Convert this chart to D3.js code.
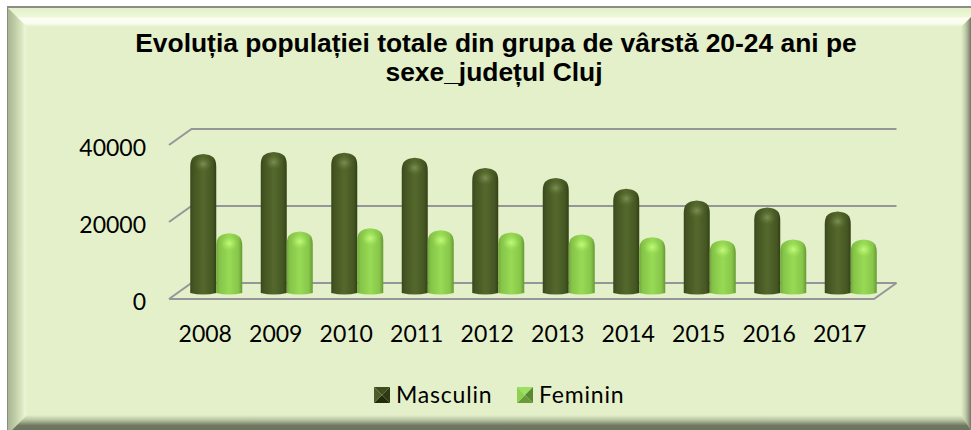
<!DOCTYPE html>
<html>
<head>
<meta charset="utf-8">
<script src="https://cdn.jsdelivr.net/npm/d3@7"></script>
<style>
  html, body { margin: 0; padding: 0; background: #fff; overflow: hidden; }
  svg { display: block; }
</style>
</head>
<body>
<div id="chart"></div>
<script>
// data
var years = ["2008", "2009", "2010", "2011", "2012", "2013", "2014", "2015", "2016", "2017"];
var masculin = [36100, 36600, 36400, 35100, 32500, 29900, 27100, 24000, 22200, 21200];
var feminin = [15500, 16000, 16800, 16300, 15700, 15200, 14500, 13700, 13900, 13900];
var yTicks = [0, 20000, 40000];
var seriesNames = ["Masculin", "Feminin"];
var titleLines = ["Evoluția populației totale din grupa de vârstă 20-24 ani pe", "sexe_județul Cluj"];

var width = 971, height = 430;

var svg = d3.select("#chart")
  .append("svg")
    .attr("width", width)
    .attr("height", height);

var defs = svg.append("defs");

function linear(id, x2, y2, stops) {
  var g = defs.append("linearGradient").attr("id", id)
    .attr("x1", 0).attr("y1", 0).attr("x2", x2).attr("y2", y2);
  stops.forEach(function(s) {
    g.append("stop").attr("offset", s[0]).attr("stop-color", s[1]);
  });
}

function radial(id, stops) {
  var g = defs.append("radialGradient").attr("id", id);
  stops.forEach(function(s) {
    g.append("stop").attr("offset", s[0]).attr("stop-color", s[1]).attr("stop-opacity", s[2]);
  });
}

// bar shading, dark at the edges
linear("barM", 1, 0, [[0, "#39471a"], [0.12, "#445522"], [0.5, "#55682c"], [0.85, "#465823"], [1, "#344016"]]);
linear("barF", 1, 0, [[0, "#6fa83a"], [0.12, "#86c449"], [0.5, "#98da55"], [0.85, "#88c64a"], [1, "#659a34"]]);
radial("capM", [[0, "#7d8d5c", 1], [0.5, "#647839", 0.7], [1, "#55682c", 0]]);
radial("capF", [[0, "#c4f97e", 1], [0.5, "#aaea62", 0.7], [1, "#98da55", 0]]);

// frame bevel
linear("bevTop", 0, 1, [[0, "#e2f1c6"], [0.45, "#eef7d8"], [0.55, "#fdfef4"], [0.8, "#fbfdf0"], [1, "#e3f0c9"]]);
linear("bevLeft", 1, 0, [[0, "#aab593"], [0.4, "#c3cfa8"], [0.75, "#dde9c2"], [0.9, "#ecf6d6"], [1, "#e3f0c9"]]);
linear("bevRight", 1, 0, [[0, "#e3f0c9"], [0.4, "#c5d0ac"], [0.7, "#a0a98f"], [1, "#6f7660"]]);
linear("bevBottom", 0, 1, [[0, "#e3f0c9"], [0.35, "#b5c0a0"], [0.7, "#70785f"], [1, "#6b7360"]]);

// frame: grey edge on the top and left, flat fill, four bevel strips
var frame = svg.append("g");
frame.append("rect")
  .attr("x", 7).attr("y", 6)
  .attr("width", width - 7).attr("height", height - 6)
  .attr("fill", "#8a8c88");
frame.append("rect")
  .attr("x", 8).attr("y", 8)
  .attr("width", width - 8).attr("height", height - 8)
  .attr("fill", "#e3f0c9");

function strip(points, fill) {
  frame.append("polygon")
    .attr("points", points.map(function(p) { return p.join(","); }).join(" "))
    .attr("fill", fill);
}
strip([[8, 8], [971, 8], [971, 17], [961, 27], [27, 27]], "url(#bevTop)");
strip([[8, 8], [27, 27], [27, 415], [12, 430], [8, 430]], "url(#bevLeft)");
strip([[971, 17], [971, 430], [961, 415], [961, 27]], "url(#bevRight)");
strip([[12, 430], [27, 415], [961, 415], [971, 430]], "url(#bevBottom)");

// title
svg.append("g").selectAll("text")
  .data(titleLines)
  .enter()
  .append("text")
    .attr("x", function(d, i) { return i === 0 ? 496 : 494; })
    .attr("y", function(d, i) { return 52 + i * 29; })
    .attr("text-anchor", "middle")
    .style("font-family", "'Liberation Sans', Arial, sans-serif")
    .style("font-weight", "bold")
    .style("font-size", "26.4px")
    .style("fill", "#000")
    .text(function(d) { return d; });

// scales. front plane of the floor for the labels, bars stand a bit further back
var left = 169, right = 874, depthX = 22.5, depthY = 16;
var front0 = 299, front40 = 145;

var x = d3.scaleBand().domain(years).range([left, right]);
var y = d3.scaleLinear().domain([0, 40000]).range([front0, front40]);
var inner = d3.scaleBand().domain(seriesNames).range([0, 52]);

// walls and gridlines
var grid = svg.append("g")
  .attr("fill", "none")
  .attr("stroke", "#96969a")
  .attr("stroke-width", 2);

yTicks.forEach(function(t) {
  var p = d3.path();
  p.moveTo(left, y(t));
  p.lineTo(left + depthX, y(t) - depthY);
  p.lineTo(right + depthX, y(t) - depthY);
  grid.append("path").attr("d", p.toString());
});
// floor front and right edge
var floor = d3.path();
floor.moveTo(left, y(0));
floor.lineTo(right, y(0));
floor.lineTo(right + depthX, y(0) - depthY);
grid.append("path").attr("d", floor.toString());

// y axis labels
var yAxis = svg.append("g")
  .attr("transform", "translate(146,0)")
  .call(d3.axisLeft(y).tickValues(yTicks).tickSize(0).tickPadding(0).tickFormat(d3.format("d")));
yAxis.select(".domain").remove();
yAxis.selectAll("text")
  .attr("dy", "10px")
  .style("font-family", "Lato, sans-serif")
  .style("font-size", "23px")
  .style("fill", "#000");

// x axis labels
var xAxis = svg.append("g")
  .attr("transform", "translate(1,342)")
  .call(d3.axisBottom(x).tickSize(0).tickPadding(0));
xAxis.select(".domain").remove();
xAxis.selectAll("text")
  .attr("y", 0)
  .attr("dy", 0)
  .style("font-family", "Lato, sans-serif")
  .style("font-size", "23px")
  .style("fill", "#000");

// one cylinder with a rounded top
var baseShift = -6, groupShift = 12;

function cylinderPath(x0, w, top) {
  var base = y(0) + baseShift;
  var p = d3.path();
  p.moveTo(x0, base);
  p.lineTo(x0, top + 13);
  p.bezierCurveTo(x0, top + 3, x0 + 4, top + 1, x0 + w / 2, top);
  p.bezierCurveTo(x0 + w - 4, top + 1, x0 + w, top + 3, x0 + w, top + 13);
  p.lineTo(x0 + w, base);
  p.quadraticCurveTo(x0 + w / 2, base + 3, x0, base);
  p.closePath();
  return p.toString();
}

var rows = years.map(function(yr, i) {
  return [
    {year: yr, name: "Masculin", value: masculin[i], fill: "url(#barM)", cap: "url(#capM)"},
    {year: yr, name: "Feminin", value: feminin[i], fill: "url(#barF)", cap: "url(#capF)"}
  ];
});
var flat = d3.merge(rows);

function barX(d) {
  return x(d.year) + x.bandwidth() / 2 + groupShift + inner(d.name) - 26;
}
function barTop(d) {
  return y(d.value) + baseShift;
}

var bars = svg.append("g").selectAll("g")
  .data(flat)
  .enter()
  .append("g");

bars.append("path")
  .attr("d", function(d) { return cylinderPath(barX(d), inner.bandwidth(), barTop(d)); })
  .attr("fill", function(d) { return d.fill; });

bars.append("ellipse")
  .attr("cx", function(d) { return barX(d) + inner.bandwidth() / 2; })
  .attr("cy", function(d) { return barTop(d) + 10; })
  .attr("rx", 9)
  .attr("ry", 8)
  .attr("fill", function(d) { return d.cap; });

// legend, each swatch is a little pyramid of four triangles
var legendX = d3.scaleOrdinal().domain(seriesNames).range([374, 517]);
var swatchColors = {
  Masculin: ["#3f4e1f", "#2f3a14", "#222c0d", "#4d5e2a"],
  Feminin: ["#9be060", "#5a8a30", "#6b9a38", "#8ed050"]
};
var swatchTris = [
  [[0, 0], [16, 0], [8, 8]],
  [[16, 0], [16, 16], [8, 8]],
  [[16, 16], [0, 16], [8, 8]],
  [[0, 16], [0, 0], [8, 8]]
];

var legend = svg.append("g").selectAll("g")
  .data(seriesNames)
  .enter()
  .append("g")
    .attr("transform", function(d) { return "translate(" + legendX(d) + ",387)"; });

legend.each(function(name) {
  d3.select(this).selectAll("polygon")
    .data(swatchTris)
    .enter()
    .append("polygon")
      .attr("points", function(t) { return t.map(function(p) { return p.join(","); }).join(" "); })
      .attr("fill", function(t, i) { return swatchColors[name][i]; });
});

legend.append("text")
  .attr("x", 22)
  .attr("y", 16)
  .style("font-family", "Lato, sans-serif")
  .style("font-size", "23px")
  .style("letter-spacing", "0.8px")
  .style("fill", "#000")
  .text(function(d) { return d; });
</script>
</body>
</html>
